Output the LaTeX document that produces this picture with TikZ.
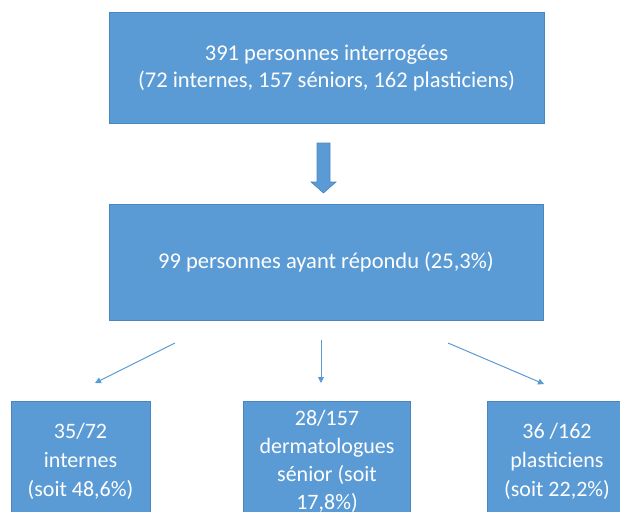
\documentclass[tikz,border=0pt]{standalone}
\usepackage{fontspec}
\setmainfont{Carlito}
\usetikzlibrary{arrows.meta,calc}
\definecolor{boxblue}{HTML}{5B9BD5}
\definecolor{boxedge}{HTML}{4A86BF}
\begin{document}
\begin{tikzpicture}[x=1pt,y=-1pt,
  box/.style={draw=boxedge,fill=boxblue,line width=0.6pt,text=white,align=center,inner sep=0pt,
    font=\fontsize{22.5}{27}\selectfont},
  small/.style={font=\fontsize{22}{29}\selectfont},
  thin/.style={draw=boxblue,line width=1pt,-{Triangle[length=6pt,width=6pt]}},
  bigarrow/.style={draw=boxedge,fill=boxblue,line width=0.6pt,line join=miter}]
\useasboundingbox (0,0) rectangle (620,511);
\clip (0,0) rectangle (620,511);
\node[box,minimum width=435pt,minimum height=111pt] (top) at (326.5,68) {391 personnes interrogées\\(72 internes, 157 séniors, 162 plasticiens)};
\node[box,minimum width=434pt,minimum height=116pt] (mid) at (326,262) {99 personnes ayant répondu (25,3\%)};
\coordinate (a) at (323.5,143);
\draw[bigarrow] ($(a)+(-6.5,0)$) -- ($(a)+(6.5,0)$) -- ($(a)+(6.5,39)$) -- ($(a)+(12.5,39)$)
  -- ($(a)+(0,50)$) -- ($(a)+(-12.5,39)$) -- ($(a)+(-6.5,39)$) -- cycle;
\node[box,small,minimum width=139pt,minimum height=120pt] (b1) at (80.5,461) {35/72\\internes\\(soit 48,6\%)};
\node[box,small,minimum width=167pt,minimum height=120pt,font=\fontsize{22}{28}\selectfont] (b2) at (327,461) {28/157\\dermatologues\\sénior (soit\\17,8\%)};
\node[box,small,minimum width=140pt,minimum height=120pt] (b3) at (557,461) {36 /162\\plasticiens\\(soit 22,2\%)};
\coordinate (s1) at (175,343);
\coordinate (e1) at (95,383);
\coordinate (s2) at (321,340);
\coordinate (e2) at (321,383);
\coordinate (s3) at (448,343);
\coordinate (e3) at (544,384);
\draw[thin] (s1) -- (e1);
\draw[thin] (s2) -- (e2);
\draw[thin] (s3) -- (e3);
\end{tikzpicture}
\end{document}
